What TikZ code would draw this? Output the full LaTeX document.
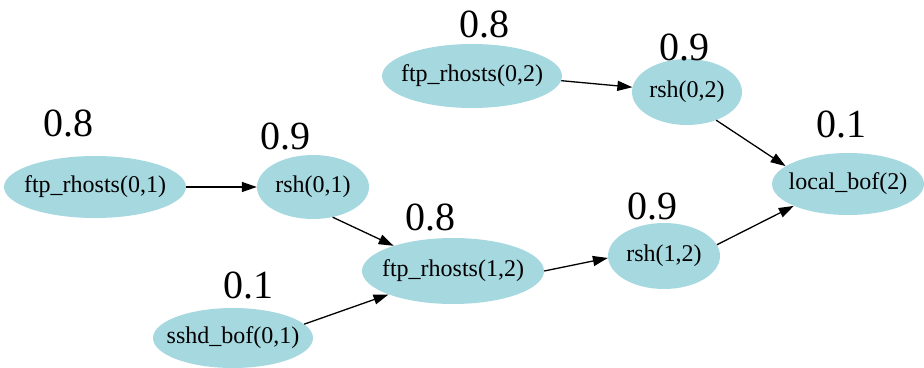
\documentclass[tikz,border=0pt]{standalone}
\usepackage{fontspec}
\setmainfont{Liberation Serif}
\usetikzlibrary{shapes.geometric,arrows.meta}
\definecolor{nodefill}{RGB}{166,216,224}
% zero-width label so the ellipse size is set by minimum width/height only
\newcommand{\stlabel}[1]{\makebox[0pt]{#1}}
\tikzset{
  state/.style={ellipse, fill=nodefill, draw=none, inner sep=0pt,
    font=\fontsize{24}{24}\selectfont},
  prob/.style={font=\fontsize{40}{40}\selectfont, inner sep=0pt},
  edge/.style={line width=1.3pt, -{Triangle[length=15pt,width=10pt]}}
}
\begin{document}
\begin{tikzpicture}[x=1pt,y=-1pt]
\useasboundingbox (0,0) rectangle (924,367);

% attack states
\node[state, minimum width=182pt, minimum height=62pt] (ftp01) at (95,187) {\stlabel{ftp\_rhosts(0,1)}};
\node[state, minimum width=112pt, minimum height=64pt] (rsh01) at (313,187) {\stlabel{rsh(0,1)}};
\node[state, minimum width=160pt, minimum height=60pt] (sshd01) at (233,338) {\stlabel{sshd\_bof(0,1)}};
\node[state, minimum width=182pt, minimum height=66pt] (ftp12) at (453,271) {\stlabel{ftp\_rhosts(1,2)}};
\node[state, minimum width=180pt, minimum height=64pt] (ftp02) at (472,76) {\stlabel{ftp\_rhosts(0,2)}};
\node[state, minimum width=110pt, minimum height=66pt] (rsh02) at (687,92) {\stlabel{rsh(0,2)}};
\node[state, minimum width=112pt, minimum height=66pt] (rsh12) at (664,256) {\stlabel{rsh(1,2)}};
\node[state, minimum width=152pt, minimum height=62pt] (local2) at (848,184) {\stlabel{local\_bof(2)}};

% probabilities
\node[prob] (p1) at (68,123) {0.8};
\node[prob] (p2) at (285,136) {0.9};
\node[prob] (p3) at (248,285) {0.1};
\node[prob] (p4) at (430,217) {0.8};
\node[prob] (p5) at (484,24) {0.8};
\node[prob] (p6) at (684,47) {0.9};
\node[prob] (p7) at (841,124) {0.1};
\node[prob] (p8) at (652,206) {0.9};

% exploit dependencies
\draw[edge] (ftp01) -- (rsh01);
\draw[edge] (rsh01.-57) -- (ftp12.157);
\draw[edge] (sshd01.11) -- (ftp12.200);
\draw[edge] (ftp12.east) -- (rsh12.182);
\draw[edge] (ftp02.-3) -- (rsh02.175);
\draw[edge] (rsh02.-44) -- (local2.164);
\draw[edge] (rsh12.12) -- (local2.202);
\end{tikzpicture}
\end{document}
